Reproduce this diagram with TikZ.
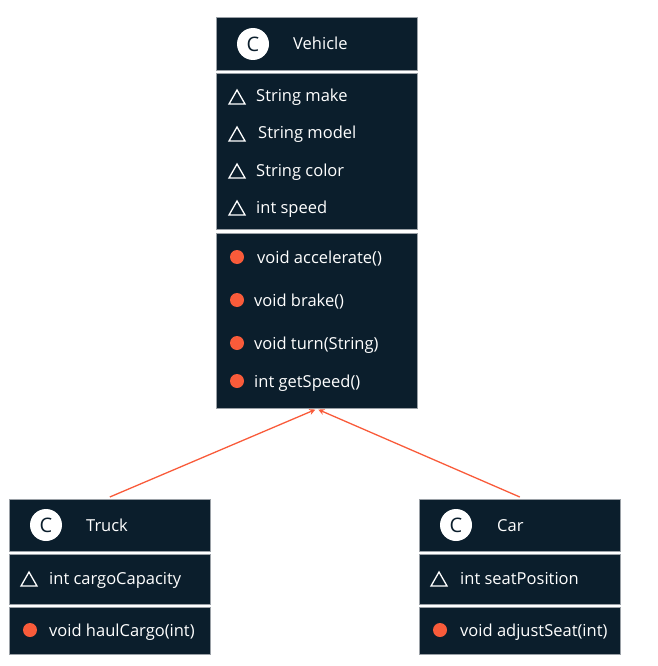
\documentclass[tikz,border=0pt]{standalone}
\usepackage{fontspec}
\setmainfont{Open Sans}
\usetikzlibrary{arrows.meta}
\definecolor{navy}{HTML}{0B1E2C}
\definecolor{orng}{HTML}{F95B3A}
\definecolor{edge}{HTML}{9AA0A6}
\tikzset{
  sec/.style={draw=edge, line width=0.6pt, fill=navy, inner sep=0pt, anchor=north west, minimum width=201pt},
  lbl/.style={text=white, font=\fontsize{16.5}{18}\selectfont, anchor=base west, inner sep=0pt, yshift=-6pt},
  cbadge/.style={circle, fill=white, minimum size=32pt, inner sep=0pt, text=navy, font=\fontsize{20}{22}\selectfont},
  mdot/.style={circle, fill=orng, minimum size=14pt, inner sep=0pt},
  inh/.style={draw=orng, line width=1.3pt, -{Stealth[length=6pt,width=6pt]}}
}
\newcommand{\attrtri}[2]{\draw[white, line width=1.3pt, line join=miter] (#1-8,#2+7) -- (#1+8,#2+7) -- (#1,#2-7) -- cycle;}
\begin{document}
\begin{tikzpicture}[x=1pt,y=-1pt]
\useasboundingbox (0,0) rectangle (657,666);
% Vehicle
\node[sec, minimum height=53pt] (vh) at (216,17) {};
\node[sec, minimum height=156pt] (va) at (216,73) {};
\node[sec, minimum height=175pt] (vm) at (216,233) {};
\node[cbadge] (vc) at (253,44) {C};
\node[lbl] (vn) at (293,44) {Vehicle};
\attrtri{237}{97}
\node[lbl] (va1) at (256,96) {String make};
\attrtri{237}{134}
\node[lbl] (va2) at (258,133) {String model};
\attrtri{237}{171}
\node[lbl] (va3) at (256,170) {String color};
\attrtri{237}{208}
\node[lbl] (va4) at (256,207) {int speed};
\node[mdot] (vd1) at (237,257) {};
\node[lbl] (vm1) at (257,257) {void accelerate()};
\node[mdot] (vd2) at (237,300) {};
\node[lbl] (vm2) at (254,300) {void brake()};
\node[mdot] (vd3) at (237,343) {};
\node[lbl] (vm3) at (254,343) {void turn(String)};
\node[mdot] (vd4) at (237,381) {};
\node[lbl] (vm4) at (254,381) {int getSpeed()};
% Truck
\node[sec, minimum height=52pt] (th) at (9,499) {};
\node[sec, minimum height=50pt] (ta) at (9,554) {};
\node[sec, minimum height=47pt] (tm) at (9,607) {};
\node[cbadge] (tc) at (46,525) {C};
\node[lbl] (tn) at (86,525) {Truck};
\attrtri{29}{579}
\node[lbl] (ta1) at (49,578) {int cargoCapacity};
\node[mdot] (td1) at (30,630) {};
\node[lbl] (tm1) at (49,630) {void haulCargo(int)};
% Car
\node[sec, minimum height=52pt] (ch) at (419,499) {};
\node[sec, minimum height=50pt] (ca) at (419,554) {};
\node[sec, minimum height=47pt] (cm) at (419,607) {};
\node[cbadge] (cc) at (456,525) {C};
\node[lbl] (cn) at (497,525) {Car};
\attrtri{439}{579}
\node[lbl] (ca1) at (460,578) {int seatPosition};
\node[mdot] (cd1) at (440,630) {};
\node[lbl] (cm1) at (460,630) {void adjustSeat(int)};
% Inheritance
\draw[inh] ([yshift=2pt]th.north) -- ([xshift=-1.5pt,yshift=-1pt]vm.south);
\draw[inh] ([yshift=2pt]ch.north) -- ([xshift=1.5pt,yshift=-1pt]vm.south);
\end{tikzpicture}
\end{document}
